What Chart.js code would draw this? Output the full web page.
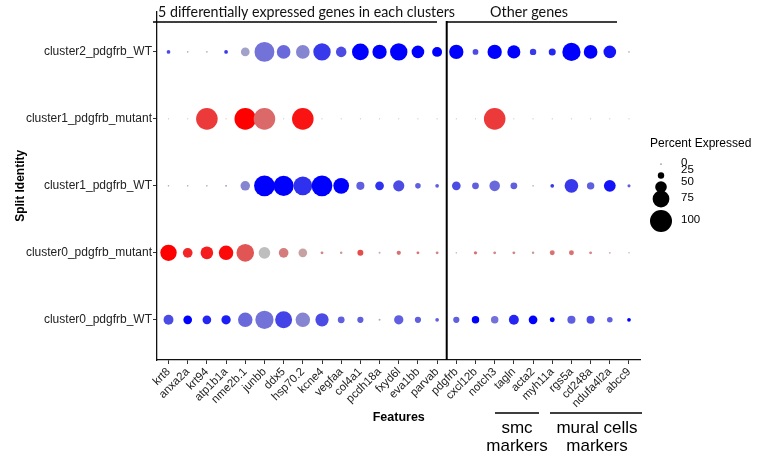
<!DOCTYPE html>
<html>
<head>
<meta charset="utf-8">
<script src="https://cdn.jsdelivr.net/npm/chart.js@4.4.1/dist/chart.umd.min.js"></script>
<style>
  html, body { margin: 0; padding: 0; background: #fff; }
  canvas { display: block; }
</style>
</head>
<body>
<canvas id="dotplot" width="757" height="459"></canvas>
<script>
// genes on the x axis (first 15: DE genes, last 10: other genes)
const genes = ['krt8', 'anxa2a', 'krt94', 'atp1b1a', 'nme2b.1', 'junbb', 'ddx5', 'hsp70.2', 'kcne4', 'vegfaa',
    'col4a1', 'pcdh18a', 'fxyd6l', 'eva1bb', 'parvab', 'pdgfrb', 'cxcl12b', 'notch3', 'tagln', 'acta2',
    'myh11a', 'rgs5a', 'cd248a', 'ndufa4l2a', 'abcc9'];

// split identities, bottom to top
const groups = ['cluster0_pdgfrb_WT', 'cluster0_pdgfrb_mutant', 'cluster1_pdgfrb_WT', 'cluster1_pdgfrb_mutant', 'cluster2_pdgfrb_WT'];

// percent expressed per group
const pctC0WT  = [42, 36, 36, 39, 64, 82, 76, 64, 58, 27, 24, 4, 39, 24, 12, 24, 30, 30, 42, 36, 18, 33, 33, 21, 12];
const pctC0Mut = [73, 41, 55, 64, 79, 50, 41, 36, 8, 6, 23, 4, 15, 8, 8, 2, 10, 8, 8, 6, 18, 18, 8, 3, 2];
const pctC1WT  = [2, 2, 2, 3, 40, 94, 91, 85, 94, 70, 33, 36, 48, 21, 12, 36, 27, 45, 27, 2, 12, 60, 30, 51, 9];
const pctC1Mut = [0, 0, 98, 0, 98, 98, 0, 98, 0, 0, 0, 0, 0, 0, 0, 0, 0, 98, 0, 0, 0, 0, 0, 0, 0];
const pctC2WT  = [12, 2, 2, 12, 36, 90, 60, 60, 78, 45, 75, 63, 78, 55, 42, 63, 22, 63, 57, 25, 28, 82, 60, 55, 2];

// scaled average expression (0 = grey, 1 = full colour)
const expC0WT  = [0.6, 1, 0.8, 0.85, 0.45, 0.4, 0.65, 0.3, 0.6, 0.5, 0.5, 0.1, 0.5, 0.5, 0.5, 0.5, 1, 0.4, 0.8, 1, 1, 0.5, 0.6, 0.5, 1];
const expC0Mut = [1, 0.8, 0.85, 0.95, 0.55, 0, 0.35, 0.15, 0.3, 0.2, 0.6, 0.1, 0.4, 0.4, 0.3, 0, 0.4, 0.3, 0.3, 0.2, 0.4, 0.4, 0.3, 0.1, 0];
const expC1WT  = [0.1, 0.1, 0.1, 0.2, 0.3, 1, 1, 0.75, 1, 1, 0.5, 0.75, 0.6, 0.5, 0.5, 0.6, 0.5, 0.45, 0.5, 0.1, 0.7, 0.7, 0.5, 0.9, 0.5];
const expC1Mut = [0, 0, 0.7, 0, 1, 0.45, 0, 0.9, 0, 0, 0, 0, 0, 0, 0, 0, 0, 0.7, 0, 0, 0, 0, 0, 0, 0];
const expC2WT  = [0.6, 0.1, 0.1, 0.7, 0.15, 0.4, 0.45, 0.3, 0.7, 0.6, 1, 1, 1, 1, 1, 1, 0.6, 1, 1, 0.7, 0.8, 1, 1, 0.9, 0.1];

const pctRows = [pctC0WT, pctC0Mut, pctC1WT, pctC1Mut, pctC2WT];
const expRows = [expC0WT, expC0Mut, expC1WT, expC1Mut, expC2WT];
const sizeBreaks = [0, 25, 50, 75, 100];

const FONT = '"Liberation Sans", Arial, sans-serif';
const MIN_R = 0.6, MAX_R = 11;
const radius = pct => MIN_R + (MAX_R - MIN_R) * pct / 100;

// grey -> blue (WT) or grey -> red (mutant)
function dotColor(group, t) {
    const hi = group.endsWith('mutant') ? [255, 0, 0] : [0, 0, 255];
    const lo = [190, 190, 190];
    const c = lo.map((v, i) => Math.round(v + (hi[i] - v) * t));
    return `rgb(${c[0]},${c[1]},${c[2]})`;
}

const points = [], colors = [];
groups.forEach((g, gi) => {
    genes.forEach((gene, xi) => {
        points.push({ x: xi, y: gi, r: radius(pctRows[gi][xi]) });
        colors.push(dotColor(g, expRows[gi][xi]));
    });
});

// annotations: headers, separator, marker brackets, size legend
const annotations = {
    id: 'annotations',
    afterDraw(chart) {
        const ctx = chart.ctx;
        const xs = chart.scales.x, area = chart.chartArea;
        const sepX = xs.getPixelForValue(14.5);
        ctx.save();
        ctx.strokeStyle = '#000';
        ctx.fillStyle = '#000';

        // separator
        ctx.lineWidth = 2;
        ctx.beginPath();
        ctx.moveTo(sepX, 21);
        ctx.lineTo(sepX, area.bottom);
        ctx.stroke();

        // header lines
        ctx.lineWidth = 1.5;
        ctx.beginPath();
        ctx.moveTo(153, 22); ctx.lineTo(437, 22);
        ctx.moveTo(sepX, 22); ctx.lineTo(617, 22);
        ctx.stroke();

        const fitText = (txt, x, y, w, size) => {
            ctx.font = `${size}px Lato, "Open Sans", sans-serif`;
            const m = ctx.measureText(txt).width;
            ctx.save();
            ctx.translate(x, y);
            ctx.scale(w / m, 1);
            ctx.textAlign = 'left';
            ctx.textBaseline = 'alphabetic';
            ctx.fillText(txt, 0, 0);
            ctx.restore();
        };
        ctx.fillStyle = '#111';
        fitText('5 differentially expressed genes in each clusters', 158, 17, 297, 16);
        fitText('Other genes', 490, 17, 78, 16);

        // axis titles
        ctx.fillStyle = '#000';
        ctx.font = `bold 12.5px ${FONT}`;
        ctx.textAlign = 'center';
        ctx.textBaseline = 'alphabetic';
        ctx.fillText('Features', (area.left + area.right) / 2, 421);
        ctx.save();
        ctx.translate(24, (area.top + area.bottom) / 2);
        ctx.rotate(-Math.PI / 2);
        ctx.font = `bold 12px ${FONT}`;
        ctx.fillText('Split Identity', 0, 0);
        ctx.restore();

        // marker brackets
        ctx.lineWidth = 1.5;
        ctx.beginPath();
        ctx.moveTo(495, 413); ctx.lineTo(539, 413);
        ctx.moveTo(550, 413); ctx.lineTo(642, 413);
        ctx.stroke();
        ctx.font = `17px ${FONT}`;
        ctx.fillText('smc', 517, 433);
        ctx.fillText('markers', 517, 451);
        ctx.fillText('mural cells', 597, 433);
        ctx.fillText('markers', 597, 451);

        // size legend
        ctx.textAlign = 'left';
        ctx.font = `12px ${FONT}`;
        ctx.fillText('Percent Expressed', 650, 147);
        const dotY = [164, 175.5, 187, 199, 221];
        const labY = [163, 170, 182, 198, 220];
        ctx.font = `11.5px ${FONT}`;
        ctx.textBaseline = 'middle';
        sizeBreaks.forEach((b, i) => {
            ctx.beginPath();
            ctx.arc(661, dotY[i], radius(b), 0, Math.PI * 2);
            ctx.fill();
            ctx.fillText(String(b), 681, labY[i]);
        });
        ctx.restore();
    }
};

new Chart(document.getElementById('dotplot'), {
    type: 'bubble',
    data: {
        datasets: [{
            data: points,
            backgroundColor: colors,
            borderWidth: 0,
            hoverBorderWidth: 0
        }]
    },
    options: {
        responsive: false,
        animation: false,
        events: [],
        layout: { padding: { top: 11.7, right: 116.5, left: 0, bottom: 0 } },
        plugins: { legend: { display: false }, tooltip: { enabled: false } },
        scales: {
            x: {
                type: 'linear',
                min: -0.6,
                max: 24.6,
                afterBuildTicks: s => { s.ticks = genes.map((g, i) => ({ value: i })); },
                afterFit: s => { s.height = 99; },
                ticks: {
                    autoSkip: false,
                    minRotation: 45,
                    maxRotation: 45,
                    padding: 1,
                    color: '#222',
                    font: { family: FONT, size: 11.5 },
                    callback: v => genes[v]
                },
                grid: { drawOnChartArea: false, drawTicks: true, tickLength: 4, color: '#333' },
                border: { display: true, color: '#111', width: 1.3 }
            },
            y: {
                type: 'linear',
                min: -0.6,
                max: 4.6,
                afterBuildTicks: s => { s.ticks = groups.map((g, i) => ({ value: i })); },
                afterFit: s => { s.width = 157; },
                ticks: {
                    autoSkip: false,
                    padding: 1,
                    color: '#222',
                    font: { family: FONT, size: 12 },
                    callback: v => groups[v]
                },
                grid: { drawOnChartArea: false, drawTicks: true, tickLength: 4, color: '#333' },
                border: { display: true, color: '#111', width: 1.3 }
            }
        }
    },
    plugins: [annotations]
});
</script>
</body>
</html>
